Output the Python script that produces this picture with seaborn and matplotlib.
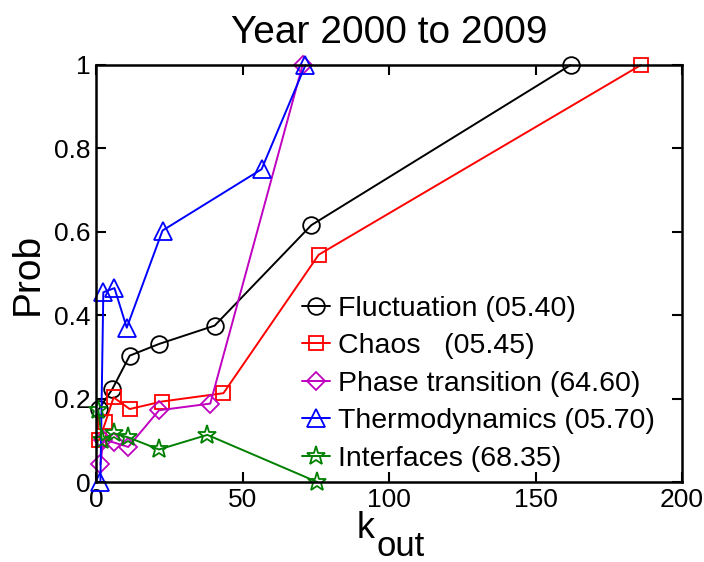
import numpy as np
import pandas as pd
import matplotlib
matplotlib.use("Agg")
import matplotlib.pyplot as plt
import seaborn as sns

# ---- data ----
fluct_x = [1, 5.5, 11.5, 21.5, 40.5, 73.5, 162]
fluct_y = [0.175, 0.222, 0.303, 0.331, 0.375, 0.616, 1.0]
chaos_x = [1, 3.2, 6, 11.5, 22.5, 43.5, 76, 186]
chaos_y = [0.10, 0.143, 0.203, 0.175, 0.193, 0.213, 0.545, 1.0]
phase_x = [1.5, 2.5, 6, 11, 21.5, 39, 70.5]
phase_y = [0.042, 0.10, 0.095, 0.084, 0.172, 0.188, 1.0]
thermo_x = [1.5, 2.5, 6.3, 10.5, 22.7, 56.5, 71.5]
thermo_y = [0.0, 0.455, 0.465, 0.37, 0.603, 0.75, 1.0]
inter_x = [0.8, 2, 6, 11, 21.5, 38, 75.5]
inter_y = [0.172, 0.10, 0.117, 0.107, 0.078, 0.113, 0.0]

labels = ["Fluctuation (05.40)", "Chaos   (05.45)", "Phase transition (64.60)",
          "Thermodynamics (05.70)", "Interfaces (68.35)"]
colors = ["black", "red", "#c000c0", "blue", "green"]
markers = ["o", "s", "D", "^", "*"]
msizes = [12, 10, 9, 13, 14]
xticks = [0, 50, 100, 150, 200]
yticks = [0, 0.2, 0.4, 0.6, 0.8, 1]
yticklabels = ["0", "0.2", "0.4", "0.6", "0.8", "1"]

series = [(fluct_x, fluct_y), (chaos_x, chaos_y), (phase_x, phase_y),
          (thermo_x, thermo_y), (inter_x, inter_y)]

sns.set_theme(style="ticks")
plt.rcParams['font.family'] = ['Liberation Sans', 'DejaVu Sans']
plt.rcParams.update({'text.color': 'black', 'axes.labelcolor': 'black',
                     'xtick.color': 'black', 'ytick.color': 'black',
                     'axes.edgecolor': 'black'})

fig = plt.figure(figsize=(7.04, 5.62), dpi=100)
ax = fig.add_axes([96/704, 1-482/562, (682-96)/704, (482-65)/562])

for (xs, ys), lab, c, m, ms in zip(series, labels, colors, markers, msizes):
    df = pd.DataFrame({"x": xs, "y": ys})
    sns.lineplot(data=df, x="x", y="y", ax=ax, sort=False, estimator=None,
                 color=c, marker=m, markersize=ms, markerfacecolor="none",
                 markeredgecolor=c, markeredgewidth=1.3, linewidth=1.4,
                 label=lab, clip_on=False)

ax.set_xlim(0, 200)
ax.set_ylim(0, 1)
ax.set_xticks(xticks)
ax.set_xticklabels([str(t) for t in xticks])
ax.set_yticks(yticks)
ax.set_yticklabels(yticklabels)
ax.tick_params(direction="in", length=7, width=1.5, labelsize=19,
               top=True, right=True, pad=4, colors="black")
for s in ax.spines.values():
    s.set_visible(True)
    s.set_linewidth(1.8)
    s.set_color("black")
ax.set_xlabel("")
ax.set_ylabel("Prob", fontsize=28, labelpad=6, color="black")
ax.set_title("Year 2000 to 2009", fontsize=28, pad=16, color="black")

fig.text(357/704, 1-538/562, "k", fontsize=26, ha="left", va="baseline", color="black")
fig.text(376/704, 1-556/562, "out", fontsize=25, ha="left", va="baseline", color="black")

leg = ax.legend(loc="upper left", bbox_to_anchor=(302/704, 1-296/562),
                bbox_transform=fig.transFigure, frameon=False, fontsize=20.5,
                handlelength=1.0, handletextpad=0.25, labelspacing=0.4,
                borderpad=0, borderaxespad=0)
for t in leg.get_texts():
    t.set_color("black")

fig.savefig("out.png", dpi=100)
